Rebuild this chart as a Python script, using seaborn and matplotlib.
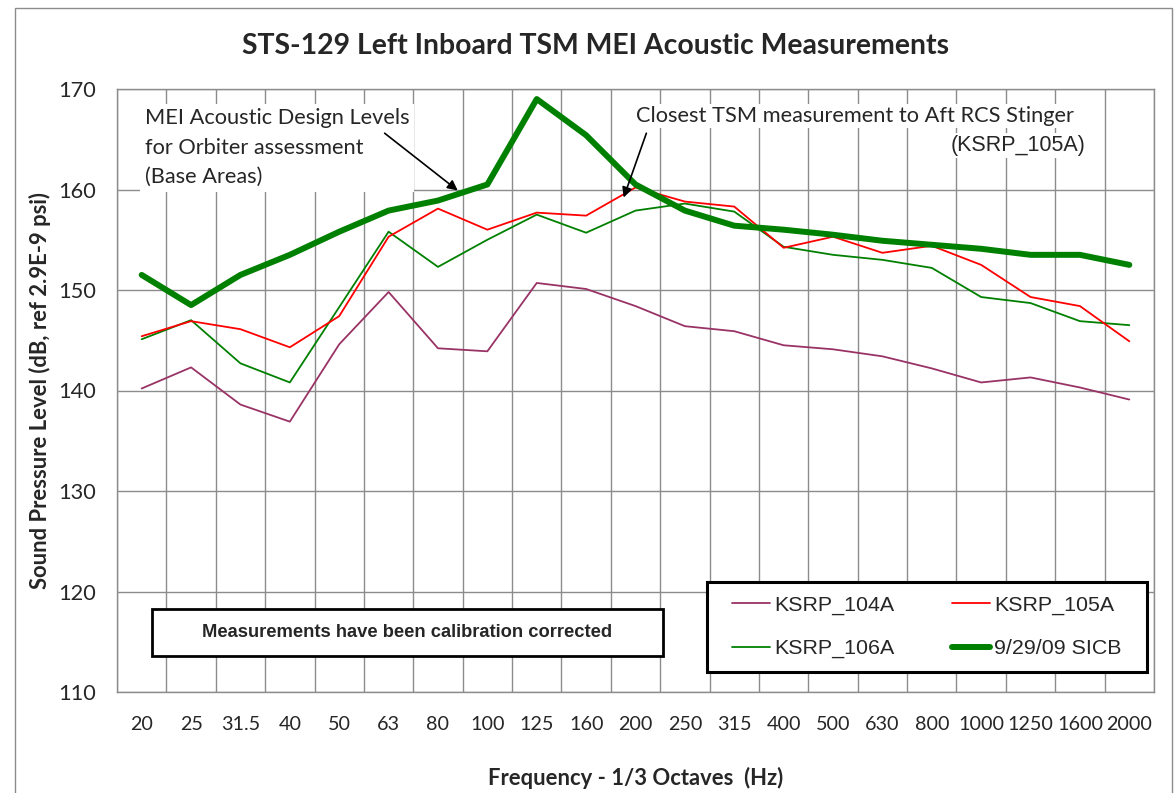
import pandas as pd
import matplotlib.pyplot as plt
import seaborn as sns
from matplotlib.patches import Rectangle

# frequency bands (1/3 octave)
freqs = ["20", "25", "31.5", "40", "50", "63", "80", "100", "125", "160", "200",
         "250", "315", "400", "500", "630", "800", "1000", "1250", "1600", "2000"]

ksrp_104a = [140.2, 142.3, 138.6, 136.9, 144.6, 149.8, 144.2, 143.9, 150.7, 150.1, 148.4,
             146.4, 145.9, 144.5, 144.1, 143.4, 142.2, 140.8, 141.3, 140.3, 139.1]
ksrp_105a = [145.4, 146.9, 146.1, 144.3, 147.4, 155.3, 158.1, 156.0, 157.7, 157.4, 160.2,
             158.8, 158.3, 154.2, 155.3, 153.7, 154.4, 152.5, 149.3, 148.4, 144.9]
ksrp_106a = [145.1, 147.0, 142.7, 140.8, 148.3, 155.8, 152.3, 155.0, 157.5, 155.7, 157.9,
             158.6, 157.8, 154.3, 153.5, 153.0, 152.2, 149.3, 148.7, 146.9, 146.5]
sicb = [151.5, 148.5, 151.5, 153.5, 155.8, 157.9, 158.9, 160.5, 169.0, 165.4, 160.5,
        157.9, 156.4, 156.0, 155.5, 154.9, 154.5, 154.1, 153.5, 153.5, 152.5]

series_names = ["KSRP_104A", "KSRP_106A", "KSRP_105A", "9/29/09 SICB"]
series_vals = [ksrp_104a, ksrp_106a, ksrp_105a, sicb]
colors = {"KSRP_104A": "#993366", "KSRP_105A": "#ff0000",
          "KSRP_106A": "#008000", "9/29/09 SICB": "#008000"}
widths = {"KSRP_104A": 1.3, "KSRP_105A": 1.3, "KSRP_106A": 1.3, "9/29/09 SICB": 4.3}

rows = []
for name, vals in zip(series_names, series_vals):
    for i, v in enumerate(vals):
        rows.append({"pos": i, "spl": v, "series": name})
df = pd.DataFrame(rows)

sns.set_theme(style="white")
plt.rcParams['font.family'] = ['Lato', 'DejaVu Sans']
arial = ["Liberation Sans", "DejaVu Sans"]

fig = plt.figure(figsize=(11.76, 7.93), dpi=100)
ax = fig.add_axes([117 / 1176, 1 - 692 / 793, (1154 - 117) / 1176, (692 - 89) / 793])

# outer chart border
fig.patches.append(Rectangle((15 / 1176, -0.05), (1172 - 15) / 1176, 1.05 - 8 / 793,
                             transform=fig.transFigure, fill=False,
                             edgecolor="#8c8c8c", linewidth=1.0))

for name in series_names:
    sub = df[df["series"] == name]
    sns.lineplot(data=sub, x="pos", y="spl", ax=ax, color=colors[name],
                 linewidth=widths[name], label=name, zorder=3 if name != "9/29/09 SICB" else 4)

ax.set_xlim(-0.5, len(freqs) - 0.5)
ax.set_ylim(110, 170)
ax.set_yticks(range(110, 171, 10))
ax.set_xticks(range(len(freqs)))
ax.set_xticklabels(freqs, fontsize=14.2)
ax.tick_params(axis="y", labelsize=15.7, pad=15, length=0)
ax.tick_params(axis="x", pad=17, length=0)
ax.set_xticks([i - 0.5 for i in range(len(freqs) + 1)], minor=True)
ax.tick_params(which="minor", length=0)
ax.grid(False)
ax.grid(True, which="minor", axis="x", color="#8c8c8c", linewidth=1.0)
ax.grid(True, which="major", axis="y", color="#8c8c8c", linewidth=1.0)
ax.set_axisbelow(True)
for s in ax.spines.values():
    s.set_color("#8c8c8c")
    s.set_linewidth(1.0)

ax.set_xlabel("Frequency - 1/3 Octaves  (Hz)", fontsize=15.8, fontweight="bold")
ax.set_ylabel("Sound Pressure Level (dB, ref 2.9E-9 psi)", fontsize=15.8, fontweight="bold")
ax.xaxis.set_label_coords(0.5, -0.124)
ax.yaxis.set_label_coords(-0.064, 0.5)
fig.text(595 / 1176, 1 - 46 / 793, "STS-129 Left Inboard TSM MEI Acoustic Measurements",
         ha="center", va="center", fontsize=20.4, fontweight="bold")

# annotations
arrow = dict(arrowstyle="-|>", color="black", lw=1.2, mutation_scale=15, shrinkA=0, shrinkB=0)
ax.text(0.06, 168.1, "MEI Acoustic Design Levels\nfor Orbiter assessment\n(Base Areas)",
        ha="left", va="top", fontsize=15.7, linespacing=1.6,
        bbox=dict(boxstyle="square,pad=0.2", fc="white", ec="none"), zorder=5)
ax.annotate("", xy=(6.40, 159.9), xytext=(4.92, 165.6), arrowprops=arrow, zorder=6)
ax.annotate("", xy=(9.76, 159.2), xytext=(10.22, 165.6), arrowprops=arrow, zorder=6)
ax.text(10.02, 167.3, "Closest TSM measurement to Aft RCS Stinger", ha="left", va="center",
        fontsize=15.7, bbox=dict(boxstyle="square,pad=0.1", fc="white", ec="none"), zorder=5)
ax.text(19.11, 164.4, "(KSRP_105A)", ha="right", va="center", fontsize=15.5,
        family=arial, bbox=dict(boxstyle="square,pad=0.1", fc="white", ec="none"), zorder=5)

# calibration note box
ax.add_patch(Rectangle((0.0338, 0.0597), 0.4928, 0.0779, transform=ax.transAxes,
                       fc="white", ec="black", lw=2, zorder=5))
ax.text(0.28, 0.0987, "Measurements have been calibration corrected", transform=ax.transAxes,
        ha="center", va="center", fontsize=13.2, fontweight="bold", family=arial, zorder=6)

# legend with its own frame
ax.add_patch(Rectangle((0.5689, 0.0332), 0.4243, 0.1493, transform=ax.transAxes,
                       fc="white", ec="black", lw=2.2, zorder=5))
leg = ax.legend(loc="upper left", bbox_to_anchor=(0.5931, 0.1595), ncol=2, frameon=False,
                borderpad=0, borderaxespad=0, prop={"family": arial, "size": 15.4},
                handlelength=1.78, handletextpad=0.19, columnspacing=2.7, labelspacing=1.12)
leg.set_zorder(6)

plt.savefig("out.png", dpi=100)
plt.close()
